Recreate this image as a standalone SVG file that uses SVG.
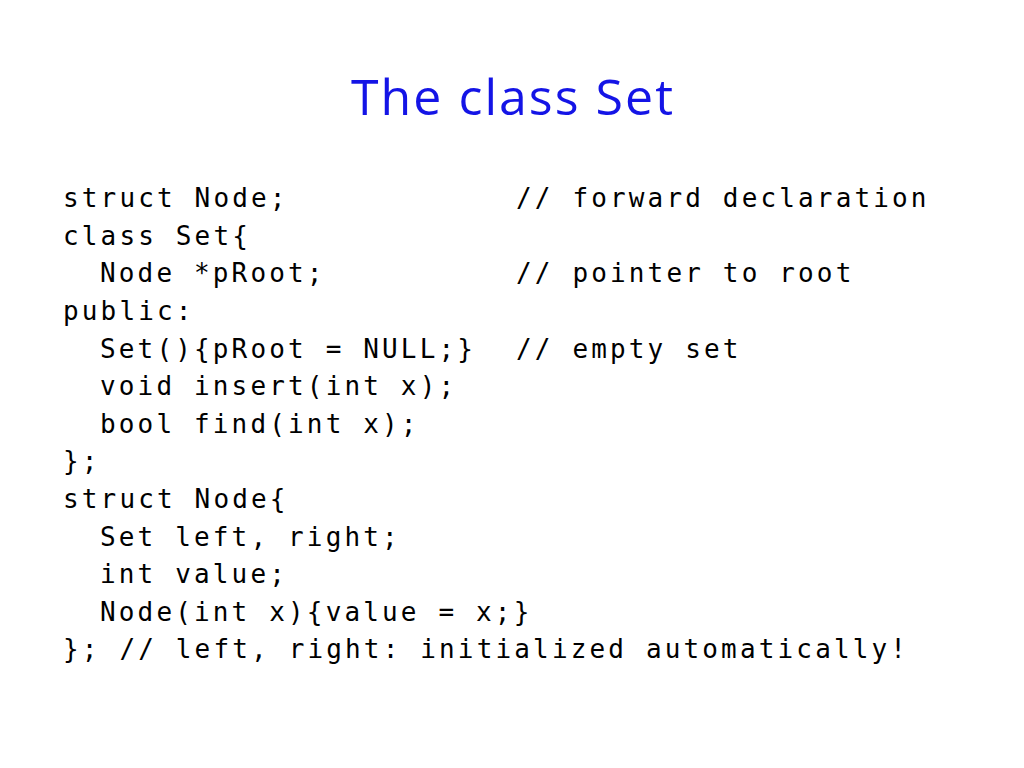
<svg xmlns="http://www.w3.org/2000/svg" width="1024" height="768" viewBox="0 0 1024 768">
<style>
.t{font-family:"Open Sans","Liberation Sans",sans-serif;font-size:50px;fill:#1414e6}
.c{font-family:"DejaVu Sans Mono","Liberation Mono",monospace;font-size:26px;letter-spacing:3.15px;fill:#000;white-space:pre}
</style>
<rect width="1024" height="768" fill="#fff"/>
<text class="t" x="512" y="115" text-anchor="middle" textLength="322">The class Set</text>
<g class="c" xml:space="preserve">
<text x="63" y="207">struct Node;</text>
<text x="516" y="207">// forward declaration</text>
<text x="63" y="245">class Set{</text>
<text x="100" y="282">Node *pRoot;</text>
<text x="516" y="282">// pointer to root</text>
<text x="63" y="320">public:</text>
<text x="100" y="358">Set(){pRoot = NULL;}</text>
<text x="516" y="358">// empty set</text>
<text x="100" y="395">void insert(int x);</text>
<text x="100" y="433">bool find(int x);</text>
<text x="63" y="470">};</text>
<text x="63" y="508">struct Node{</text>
<text x="100" y="546">Set left, right;</text>
<text x="100" y="583">int value;</text>
<text x="100" y="621">Node(int x){value = x;}</text>
<text x="63" y="658">}; // left, right: initialized automatically!</text>
</g>
</svg>
